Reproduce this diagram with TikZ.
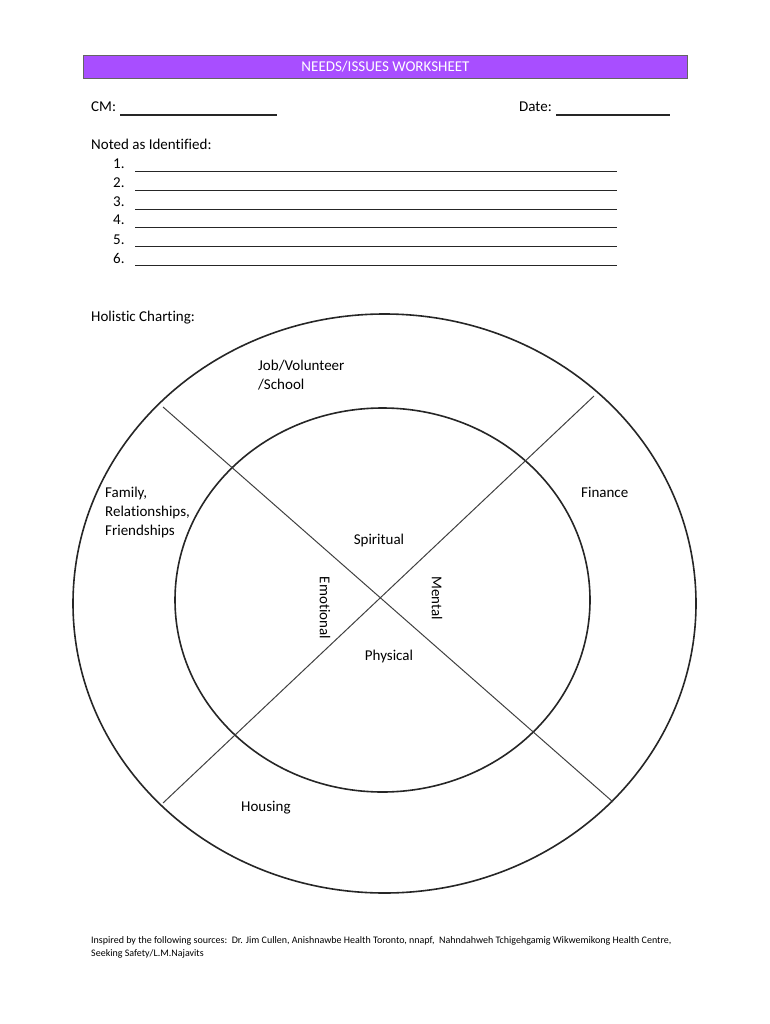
\documentclass[tikz,border=0pt]{standalone}
\usepackage{fontspec}
\setmainfont[Ligatures=NoCommon]{Carlito}
\definecolor{hdrpurple}{RGB}{168,78,255}
\definecolor{hdrborder}{RGB}{100,100,100}
\tikzset{
  txt/.style={anchor=base west, inner sep=0pt, font=\fontsize{15}{17}\selectfont},
  ctxt/.style={anchor=base, inner sep=0pt, font=\fontsize{15}{17}\selectfont},
  rtxt/.style={inner sep=0pt, rotate=-90, font=\fontsize{15}{17}\selectfont},
  foot/.style={anchor=base west, inner sep=0pt, font=\fontsize{10}{12}\selectfont},
  fillline/.style={line width=1.2pt, draw=black!85},
  ring/.style={line width=1.6pt, draw=black!85},
  cross/.style={line width=1pt, draw=black!75},
}
\begin{document}
\begin{tikzpicture}[x=1pt,y=-1pt]
\useasboundingbox (0,0) rectangle (770,1024);
% header
\node[draw=hdrborder, line width=1pt, fill=hdrpurple, minimum width=604pt, minimum height=23pt, inner sep=0pt, anchor=north west,
  text=white, font=\fontsize{15}{17}\selectfont] (hdr) at (83,55) {NEEDS/ISSUES WORKSHEET};
% CM / Date
\node[txt] (cm) at (91,112) {CM:};
\coordinate (cmA) at (120,115); \coordinate (cmB) at (277,115);
\draw[fillline] (cmA) -- (cmB);
\node[txt] (date) at (519,112) {Date:};
\coordinate (dtA) at (556,115); \coordinate (dtB) at (670,115);
\draw[fillline] (dtA) -- (dtB);
% noted
\node[txt] (noted) at (91,150) {Noted as Identified:};
\foreach \i/\y in {1/169,2/188,3/207,4/225,5/244,6/263}{
  \node[txt] (n\i) at (113,\y) {\i.};
  \coordinate (la\i) at (135,\y+2.5);
  \coordinate (lb\i) at (617,\y+2.5);
  \draw[fillline] (la\i) -- (lb\i);
}
% holistic
\node[txt] (hol) at (91,321) {Holistic Charting:};
\coordinate (oc) at (384.5,603.5);
\coordinate (ic) at (382.5,600);
\draw[ring] (oc) ellipse [x radius=311.5pt, y radius=289.5pt];
\draw[ring] (ic) ellipse [x radius=207.5pt, y radius=192pt];
\coordinate (d1a) at (163,407); \coordinate (d1b) at (613,802);
\coordinate (d2a) at (594,396); \coordinate (d2b) at (163,803);
\draw[cross] (d1a) -- (d1b);
\draw[cross] (d2a) -- (d2b);
% labels
\node[txt] (job) at (258,370) {Job/Volunteer};
\node[txt] (sch) at (258,389) {/School};
\node[txt] (fam1) at (105,497) {Family,};
\node[txt] (fam2) at (105,516) {Relationships,};
\node[txt] (fam3) at (105,535) {Friendships};
\node[txt] (fin) at (581,497) {Finance};
\node[ctxt] (spi) at (379,544) {Spiritual};
\node[ctxt] (phy) at (389,660) {Physical};
\node[rtxt] (emo) at (325,608) {Emotional};
\node[rtxt] (men) at (437,598) {Mental};
\node[txt] (hou) at (241,811) {Housing};
% footer
\node[foot] (f1) at (91,943) {Inspired by the following sources:\ \ Dr. Jim Cullen, Anishnawbe Health Toronto, nnapf,\ \ Nahndahweh Tchigehgamig Wikwemikong Health Centre,};
\node[foot] (f2) at (91,956) {Seeking Safety/L.M.Najavits};
\end{tikzpicture}
\end{document}
